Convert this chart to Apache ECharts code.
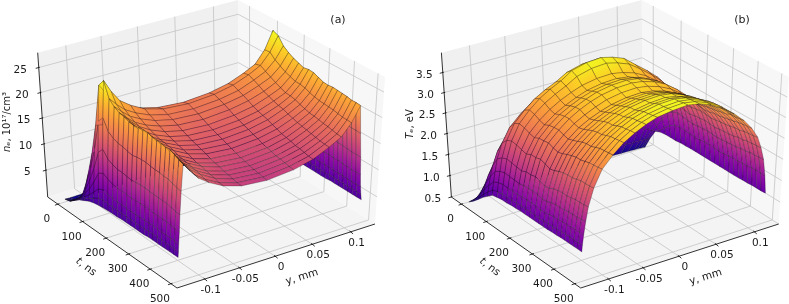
<!DOCTYPE html>
<html><head><meta charset="utf-8">
<style>html,body{margin:0;padding:0;background:#fff}#c{width:789px;height:304px}</style>
<script src="https://cdn.jsdelivr.net/npm/echarts@6/dist/echarts.min.js"></script>
</head><body><div id="c"></div>
<script>
// ---------- data ----------
const tGrid = [0,20,40,60,80,100,120,140,160,180,200,220,240,260,280,300,320,340,360,380,400,420,440,460,480,500];
const neY = [-.13,-.1295,-.129,-.128,-.127,-.125,-.122,-.112,-.1,-.085,-.065,-.04,-.005,.03,.055,.075,.09,.102,.112,.114,.116,.117,.118,.119,.12];
const teY = [-.13,-.129,-.127,-.124,-.12,-.112,-.1,-.085,-.07,-.055,-.04,-.025,-.005,.015,.03,.045,.06,.075,.088,.098,.106,.111,.115,.118,.12];
const neRows = [
[.5,.5,.5,.5,.5,.5,.5,.5,.5,.5,.5,.5,.5,.5,.5,.5,.5,.5,.5,.5,.5,.5,.5,.5,.5],
[.8,.8,.8,.8,.8,.8,.8,.8,.8,.8,.9,.9,.9,.9,.9,.8,.8,.8,.8,.8,.8,.8,.8,.8,.8],
[1.6,1.6,1.6,1.7,1.7,1.7,1.8,1.8,1.9,1.9,2,2,2,2,2,1.9,1.8,1.7,1.6,1.6,1.6,1.6,1.6,1.6,1.6],
[2.3,2.4,2.5,2.6,2.8,3.1,3.5,3.8,4.2,4.5,4.7,4.9,5,4.9,4.8,4.6,4.3,4,3.5,3.1,2.8,2.6,2.5,2.4,2.3],
[2.8,3.1,3.5,4.1,4.9,6.1,7.5,7.8,8.2,8.5,8.7,8.9,9,8.9,8.7,8.4,8.1,7.6,7,5.7,4.7,3.9,3.4,3.1,2.8],
[3.3,3.8,4.5,5.6,7.2,9.4,12,12.2,12.5,12.6,12.8,13,13,12.9,12.8,12.6,12.3,12,11.5,9,7,5.5,4.4,3.8,3.3],
[3.6,4.5,5.6,7.5,10.1,13.7,18,17.7,17.3,17,16.8,16.6,16.5,16.6,16.7,17,17.2,17.5,18,13.7,10.1,7.5,5.6,4.5,3.6],
[3.8,5.1,6.8,9.7,13.6,19.5,26.5,24.5,22.4,21,19.8,18.9,18.5,18.9,19.7,20.9,22.1,24.5,28,20.5,14.5,10,7,5.2,3.8],
[3.9,5.3,7.2,10.3,14.8,20.8,28,25.5,23.2,21.7,20.2,19.2,18.8,19.2,20,21.2,22.4,24.6,27.5,20.3,14.4,10.2,7.1,5.3,3.9],
[4,5.3,6.9,9.7,13.5,18.7,25,23.5,22,20.8,19.6,18.7,18.4,18.8,19.5,20.7,21.8,23.6,26,19.4,13.9,9.9,7.1,5.3,4],
[4,5.2,6.8,9.4,13,18,24,22.7,21.3,20.2,19.1,18.3,18,18.4,19.1,20.2,21.2,22.9,25.2,18.8,13.5,9.7,7,5.3,4],
[4,5.2,6.7,9.2,12.7,17.6,23.4,22.1,20.7,19.6,18.6,17.8,17.5,17.9,18.6,19.6,20.7,22.3,24.6,18.4,13.3,9.6,6.9,5.2,4],
[4.1,5.2,6.8,9.3,12.7,17.5,23.2,21.8,20.4,19.2,18.1,17.3,17,17.4,18.1,19.2,20.2,21.9,24.2,18.2,13.1,9.5,6.9,5.3,4.1],
[4.1,5.2,6.7,9.2,12.5,17.2,22.8,21.4,20,18.8,17.7,16.9,16.6,17,17.7,18.8,19.8,21.5,23.8,17.9,13,9.4,6.9,5.3,4.1],
[4.1,5.2,6.7,9.1,12.4,17,22.6,21.2,19.7,18.5,17.4,16.5,16.2,16.6,17.4,18.5,19.7,21.5,24,18,13.1,9.5,6.9,5.3,4.1],
[4.1,5.2,6.7,9.2,12.5,17.2,22.8,21.3,19.7,18.4,17.1,16.2,15.9,16.3,17.1,18.3,19.5,21.3,23.9,18,13,9.4,6.9,5.3,4.1],
[4.1,5.2,6.7,9.2,12.6,17.3,22.9,21.3,19.6,18.2,16.8,15.9,15.5,15.9,16.7,17.9,19.1,20.9,23.5,17.7,12.8,9.3,6.8,5.3,4.1],
[4.1,5.2,6.7,9.2,12.6,17.3,22.9,21.2,19.4,18,16.6,15.6,15.2,15.6,16.4,17.6,18.8,20.6,23.1,17.4,12.7,9.2,6.8,5.2,4.1],
[4.2,5.3,6.8,9.2,12.5,17.1,22.6,20.9,19.1,17.6,16.2,15.2,14.8,15.2,16,17.3,18.5,20.4,23,17.4,12.7,9.3,6.8,5.3,4.2],
[4.2,5.3,6.8,9.1,12.4,17,22.5,20.7,18.9,17.4,15.9,14.9,14.5,14.9,15.8,17.1,18.4,20.3,23.1,17.4,12.7,9.2,6.8,5.3,4.2],
[4.2,5.3,6.7,9.1,12.4,17,22.4,20.6,18.8,17.2,15.8,14.7,14.3,14.7,15.6,16.9,18.2,20.2,23,17.4,12.6,9.2,6.8,5.3,4.2],
[4.2,5.3,6.7,9,12.3,16.8,22.2,20.4,18.5,17,15.5,14.4,14,14.4,15.3,16.7,18,20.1,22.9,17.3,12.6,9.1,6.8,5.3,4.2],
[4.2,5.3,6.7,9,12.3,16.8,22.2,20.4,18.4,16.8,15.3,14.2,13.8,14.3,15.2,16.5,17.9,19.9,22.8,17.2,12.5,9.1,6.7,5.3,4.2],
[4.2,5.3,6.7,9,12.1,16.5,21.8,20,18.1,16.6,15.1,14,13.6,14.1,15,16.3,17.7,19.7,22.6,17.1,12.4,9,6.7,5.3,4.2],
[4.2,5.2,6.6,8.8,11.9,16.2,21.3,19.6,17.7,16.2,14.8,13.8,13.4,13.9,14.8,16.2,17.5,19.7,22.6,17.1,12.4,9,6.7,5.3,4.2],
[4.2,5.2,6.6,8.7,11.8,16,21,19.3,17.5,16.1,14.7,13.7,13.3,13.8,14.7,16.1,17.4,19.6,22.5,17,12.4,9.1,6.8,5.3,4.2]
];
const teRows = [
[.5,.5,.51,.51,.52,.52,.53,.53,.54,.54,.55,.55,.55,.55,.55,.55,.54,.54,.53,.53,.52,.52,.51,.51,.5],
[.6,.62,.64,.67,.7,.75,.79,.82,.85,.86,.88,.89,.9,.9,.9,.89,.87,.85,.83,.82,.82,.81,.8,.8,.8],
[.72,.76,.82,.9,.99,1.11,1.22,1.3,1.36,1.41,1.45,1.48,1.5,1.51,1.49,1.46,1.41,1.34,1.27,1.25,1.2,1.15,1.1,1.07,1.05],
[.85,.92,1.03,1.16,1.32,1.53,1.71,1.85,1.96,2.04,2.11,2.16,2.2,2.21,2.19,2.13,2.05,1.93,1.81,1.69,1.55,1.42,1.27,1.15,1.1],
[.95,1.05,1.2,1.4,1.63,1.93,2.2,2.39,2.55,2.67,2.76,2.84,2.9,2.92,2.88,2.8,2.69,2.51,2.33,2.16,1.96,1.77,1.55,1.3,1.12],
[1.05,1.17,1.35,1.58,1.86,2.2,2.52,2.75,2.94,3.07,3.19,3.28,3.35,3.37,3.33,3.24,3.1,2.89,2.68,2.48,2.25,2.02,1.76,1.44,1.12],
[1.08,1.21,1.41,1.66,1.96,2.34,2.69,2.94,3.15,3.3,3.42,3.58,3.68,3.71,3.64,3.47,3.32,3.1,2.87,2.64,2.39,2.14,1.86,1.51,1.12],
[1.1,1.23,1.44,1.7,2.01,2.4,2.76,3.02,3.23,3.39,3.52,3.7,3.8,3.83,3.76,3.65,3.41,3.18,2.95,2.71,2.45,2.19,1.91,1.54,1.14],
[1.1,1.23,1.43,1.69,1.99,2.38,2.73,2.99,3.19,3.34,3.47,3.63,3.73,3.76,3.69,3.58,3.37,3.14,2.91,2.68,2.43,2.17,1.89,1.53,1.14],
[1.12,1.24,1.44,1.68,1.97,2.34,2.68,2.92,3.11,3.26,3.38,3.48,3.55,3.57,3.52,3.43,3.28,3.06,2.85,2.63,2.38,2.14,1.87,1.53,1.15],
[1.12,1.24,1.43,1.67,1.95,2.31,2.64,2.88,3.07,3.21,3.33,3.43,3.5,3.52,3.48,3.38,3.24,3.03,2.81,2.6,2.36,2.12,1.86,1.52,1.15],
[1.13,1.25,1.45,1.7,2,2.37,2.7,2.94,3.13,3.27,3.39,3.48,3.55,3.57,3.53,3.44,3.3,3.08,2.86,2.64,2.39,2.15,1.88,1.53,1.15],
[1.13,1.25,1.45,1.7,2,2.37,2.71,2.96,3.16,3.31,3.43,3.53,3.6,3.62,3.58,3.48,3.33,3.11,2.88,2.66,2.41,2.16,1.89,1.54,1.15],
[1.13,1.26,1.46,1.72,2.03,2.4,2.73,2.97,3.17,3.32,3.44,3.53,3.6,3.62,3.58,3.49,3.35,3.13,2.9,2.68,2.43,2.18,1.9,1.55,1.15],
[1.13,1.25,1.45,1.7,1.99,2.36,2.68,2.92,3.12,3.26,3.38,3.48,3.55,3.57,3.53,3.44,3.3,3.09,2.88,2.66,2.42,2.17,1.89,1.54,1.15],
[1.13,1.24,1.43,1.66,1.95,2.31,2.65,2.89,3.09,3.23,3.34,3.43,3.5,3.52,3.48,3.4,3.27,3.06,2.85,2.64,2.4,2.15,1.88,1.53,1.15],
[1.13,1.25,1.44,1.68,1.97,2.34,2.68,2.93,3.12,3.27,3.39,3.48,3.55,3.57,3.53,3.44,3.31,3.1,2.88,2.66,2.42,2.17,1.89,1.54,1.15],
[1.13,1.26,1.46,1.72,2.02,2.39,2.73,2.97,3.17,3.32,3.44,3.53,3.6,3.62,3.58,3.49,3.35,3.13,2.91,2.69,2.44,2.18,1.9,1.55,1.15],
[1.14,1.27,1.48,1.74,2.05,2.42,2.77,3.02,3.22,3.37,3.49,3.58,3.65,3.67,3.63,3.53,3.39,3.16,2.93,2.7,2.45,2.19,1.91,1.56,1.15],
[1.14,1.27,1.48,1.75,2.06,2.44,2.8,3.05,3.25,3.41,3.53,3.63,3.7,3.72,3.68,3.57,3.42,3.19,2.95,2.72,2.47,2.2,1.92,1.56,1.15],
[1.15,1.28,1.49,1.75,2.06,2.44,2.8,3.05,3.26,3.41,3.54,3.63,3.7,3.73,3.68,3.58,3.44,3.21,2.98,2.75,2.5,2.24,1.95,1.58,1.16],
[1.15,1.29,1.5,1.77,2.08,2.47,2.83,3.09,3.3,3.46,3.59,3.68,3.75,3.77,3.73,3.63,3.48,3.24,3,2.77,2.5,2.24,1.95,1.58,1.16],
[1.15,1.29,1.51,1.78,2.1,2.5,2.86,3.13,3.34,3.5,3.63,3.72,3.8,3.82,3.77,3.67,3.52,3.28,3.05,2.8,2.54,2.27,1.98,1.6,1.17],
[1.15,1.29,1.51,1.78,2.1,2.5,2.87,3.14,3.35,3.51,3.64,3.73,3.8,3.83,3.79,3.69,3.54,3.3,3.05,2.82,2.55,2.28,1.98,1.6,1.17],
[1.15,1.29,1.52,1.79,2.11,2.5,2.88,3.15,3.37,3.53,3.66,3.75,3.82,3.85,3.8,3.7,3.55,3.31,3.07,2.83,2.56,2.29,1.99,1.6,1.17],
[1.15,1.3,1.52,1.8,2.12,2.52,2.9,3.16,3.38,3.54,3.67,3.77,3.83,3.86,3.81,3.71,3.56,3.32,3.08,2.84,2.58,2.3,2,1.6,1.18]
];
const tTicks = [0,100,200,300,400,500];
const yTicks = [-0.1,-0.05,0,0.05,0.1];
const yTickLabels = ['-0.1','-0.05','0','0.05','0.1'];
const neTicks = [5,10,15,20,25];
const teTicks = [0.5,1,1.5,2,2.5,3,3.5];
const teTickLabels = ['0.5','1.0','1.5','2.0','2.5','3.0','3.5'];
const plasma = ['#0d0887','#41049d','#6a00a8','#8f0da4','#b12a90','#cc4778','#e16462','#f2844b','#fca636','#fcce25','#f0f921'];

// ---------- view: the 8 box corners on the page (order: X bit, Y bit, Z bit) ----------
const boxA = {L:[47.7,197],F:[177,288],B:[239,138],R:[375,224],L2:[37.7,52.7],F2:[176,135],B2:[238,0],R2:[385,77]};
const panelShift = 403.7;
function corners(dx){const b=boxA,o=[b.L,b.F,b.B,b.R,b.L2,b.F2,b.B2,b.R2];return o.map(p=>[p[0]+dx,p[1]]);}
const panelA = {c:corners(0),tMin:-40,tMax:530,yMin:-.141,yMax:.131,zMin:0,zMax:28,rows:neRows,ys:neY,vMin:.5,vMax:28};
const panelB = {c:corners(panelShift),tMin:-40,tMax:530,yMin:-.141,yMax:.131,zMin:.5,zMax:4,rows:teRows,ys:teY,vMin:.5,vMax:3.86};
function close3(X,Y,Z){return .742*X-.52*Y+.28*Z;}
const camD = 6;
function project(p,t,y,z){
  const X=(t-p.tMin)/(p.tMax-p.tMin),Y=(y-p.yMin)/(p.yMax-p.yMin),Z=(z-p.zMin)/(p.zMax-p.zMin);
  let sx=0,sy=0,sw=0;
  for(let i=0;i<8;i++){
    const bx=i&1,by=(i>>1)&1,bz=(i>>2)&1;
    const n=.742*(bx-.5)-.52*(by-.5)+.28*(bz-.5);
    const w=1/(1-n/camD);
    const b=(bx?X:1-X)*(by?Y:1-Y)*(bz?Z:1-Z)*w;
    sx+=b*p.c[i][0];sy+=b*p.c[i][1];sw+=b;
  }
  return [sx/sw,sy/sw];
}
function depth(p,t,y,z){
  return close3((t-p.tMin)/(p.tMax-p.tMin),(y-p.yMin)/(p.yMax-p.yMin),(z-p.zMin)/(p.zMax-p.zMin));
}
function plasmaColor(v){
  v=Math.max(0,Math.min(1,v))*(plasma.length-1);
  const i=Math.min(plasma.length-2,Math.floor(v)),f=v-i;
  const h=s=>[1,3,5].map(k=>parseInt(s.substr(k,2),16));
  const a=h(plasma[i]),b=h(plasma[i+1]);
  return 'rgb('+a.map((q,k)=>Math.round(q+(b[k]-q)*f)).join(',')+')';
}
// ---------- scene ----------
const scene=[];
function pane(p,pts,fill){scene.push({k:'poly',pts:pts.map(q=>project(p,q[0],q[1],q[2])),fill});}
function seg(p,a,b,color,lw){scene.push({k:'line',pts:[project(p,a[0],a[1],a[2]),project(p,b[0],b[1],b[2])],color,lw});}
const labels=[];
function addPanel(p,zTicks,zLabels,dx,title,zRich){
  const t0=p.tMin,t1=p.tMax,y0=p.yMin,y1=p.yMax,z0=p.zMin,z1=p.zMax;
  pane(p,[[t0,y0,z0],[t0,y1,z0],[t0,y1,z1],[t0,y0,z1]],'#f0f0f0');
  pane(p,[[t0,y1,z0],[t1,y1,z0],[t1,y1,z1],[t0,y1,z1]],'#f7f7f7');
  pane(p,[[t0,y0,z0],[t1,y0,z0],[t1,y1,z0],[t0,y1,z0]],'#f4f4f4');
  const G='#c4c4c4';
  tTicks.forEach(t=>{seg(p,[t,y0,z0],[t,y1,z0],G,.8);seg(p,[t,y1,z0],[t,y1,z1],G,.8);});
  yTicks.forEach(y=>{seg(p,[t0,y,z0],[t1,y,z0],G,.8);seg(p,[t0,y,z0],[t0,y,z1],G,.8);});
  zTicks.forEach(z=>{seg(p,[t0,y0,z],[t0,y1,z],G,.8);seg(p,[t0,y1,z],[t1,y1,z],G,.8);});
  seg(p,[t0,y0,z0],[t0,y0,z1],'#000',.8);
  seg(p,[t0,y0,z0],[t1,y0,z0],'#000',.8);
  seg(p,[t1,y0,z0],[t1,y1,z0],'#000',.8);
  tTicks.forEach((t,i)=>{const q=project(p,t,y0,z0);
    scene.push({k:'line',pts:[[q[0]+1.5,q[1]-.5],[q[0]-3,q[1]+1]],color:'#000',lw:.8});
    labels.push({text:String(t),x:q[0]-11,y:q[1]+15.5,size:10.5});});
  yTicks.forEach((y,i)=>{const q=project(p,t1,y,z0);
    scene.push({k:'line',pts:[[q[0]-1,q[1]-1],[q[0]+2.5,q[1]+2]],color:'#000',lw:.8});
    labels.push({text:yTickLabels[i],x:q[0]+6,y:q[1]+11,size:10.5});});
  zTicks.forEach((z,i)=>{const q=project(p,t0,y0,z);
    scene.push({k:'line',pts:[[q[0]+1,q[1]-.3],[q[0]-3,q[1]+.8]],color:'#000',lw:.8});
    labels.push({text:zLabels[i],x:q[0]-18.5,y:q[1]+2.5,size:10.5});});
  labels.push({text:'{i|t}{n|, ns}',x:86+dx,y:267,size:10.5,rot:-38,rich:true});
  labels.push({text:'y, mm',x:302+dx,y:277,size:10.5,rot:17});
  labels.push({text:zRich,x:dx?410:7,y:dx?124:122,size:10,rot:90,rich:true});
  labels.push({text:title,x:dx?742:338,y:20,size:11});
}
addPanel(panelA,neTicks,neTicks.map(String),0,'(a)','{i|n\u2091}{n|, 10\u00b9\u2077/cm\u00b3}');
addPanel(panelB,teTicks,teTickLabels,panelShift,'(b)','{i|T\u2091}{n|, eV}');

const cells=[];
[panelA,panelB].forEach(p=>{
  const col=z=>plasmaColor((z-p.vMin)/(p.vMax-p.vMin));
  for(let i=0;i<tGrid.length-1;i++)for(let j=0;j<p.ys.length-1;j++){
    const cs=[[i,j],[i+1,j],[i+1,j+1],[i,j+1]];
    const vals=cs.map(c=>[tGrid[c[0]],p.ys[c[1]],p.rows[c[0]][c[1]]]);
    const dep=vals.reduce((a,v)=>a+depth(p,v[0],v[1],v[2]),0)/4;
    const pts=vals.map(v=>project(p,v[0],v[1],v[2]));
    const mid=(a,b)=>[(pts[a][0]+pts[b][0])/2,(pts[a][1]+pts[b][1])/2];
    const zm=(a,b)=>(vals[a][2]+vals[b][2])/2;
    // colour runs between the cell's own corner values, along its steeper direction
    const alongY=Math.abs(zm(2,3)-zm(0,1))>=Math.abs(zm(1,2)-zm(0,3));
    const s=alongY?mid(0,1):mid(0,3),e=alongY?mid(2,3):mid(1,2);
    const za=alongY?zm(0,1):zm(0,3),zb=alongY?zm(2,3):zm(1,2);
    cells.push({pts,dep,fill:{type:'linear',global:true,x:s[0],y:s[1],x2:e[0],y2:e[1],
      colorStops:[0,.25,.5,.75,1].map(o=>({offset:o,color:col(za+(zb-za)*o)}))}});
  }
});
cells.sort((a,b)=>a.dep-b.dep);

const chart=echarts.init(document.getElementById('c'),null,{renderer:'canvas'});
const px=(api,pts)=>pts.map(q=>api.coord(q));
chart.setOption({
  animation:false,
  grid:{left:0,right:0,top:0,bottom:0},
  xAxis:{type:'value',min:0,max:789,show:false},
  yAxis:{type:'value',min:0,max:304,inverse:true,show:false},
  series:[
   {type:'custom',coordinateSystem:'cartesian2d',silent:true,clip:false,z:1,
    data:scene.map((_,i)=>[i]),
    renderItem:(par,api)=>{const s=scene[api.value(0)];
      if(s.k==='poly')return{type:'polygon',shape:{points:px(api,s.pts)},style:{fill:s.fill}};
      return{type:'polyline',shape:{points:px(api,s.pts)},style:{fill:null,stroke:s.color,lineWidth:s.lw}};}},
   {type:'custom',coordinateSystem:'cartesian2d',silent:true,clip:false,z:2,progressive:0,
    data:cells.map((_,i)=>[i]),
    renderItem:(par,api)=>{const s=cells[api.value(0)];
      return{type:'polygon',shape:{points:px(api,s.pts)},style:{fill:s.fill,stroke:'rgba(20,10,20,0.62)',lineWidth:.45}};}},
   {type:'custom',coordinateSystem:'cartesian2d',silent:true,clip:false,z:3,
    data:labels.map((_,i)=>[i]),
    renderItem:(par,api)=>{const s=labels[api.value(0)];const q=api.coord([s.x,s.y]);
      const base={fontFamily:'DejaVu Sans',fontSize:s.size,fill:'#1a1a1a'};
      const style=Object.assign({},base,{text:s.text,x:0,y:0,align:'center',verticalAlign:'middle'});
      if(s.rich)style.rich={i:{fontFamily:'DejaVu Sans',fontSize:s.size,fontStyle:'italic',fill:'#1a1a1a'},n:{fontFamily:'DejaVu Sans',fontSize:s.size,fill:'#1a1a1a'}};
      return{type:'text',x:q[0],y:q[1],rotation:(s.rot||0)*Math.PI/180,style};}}
  ]
});
</script></body></html>
